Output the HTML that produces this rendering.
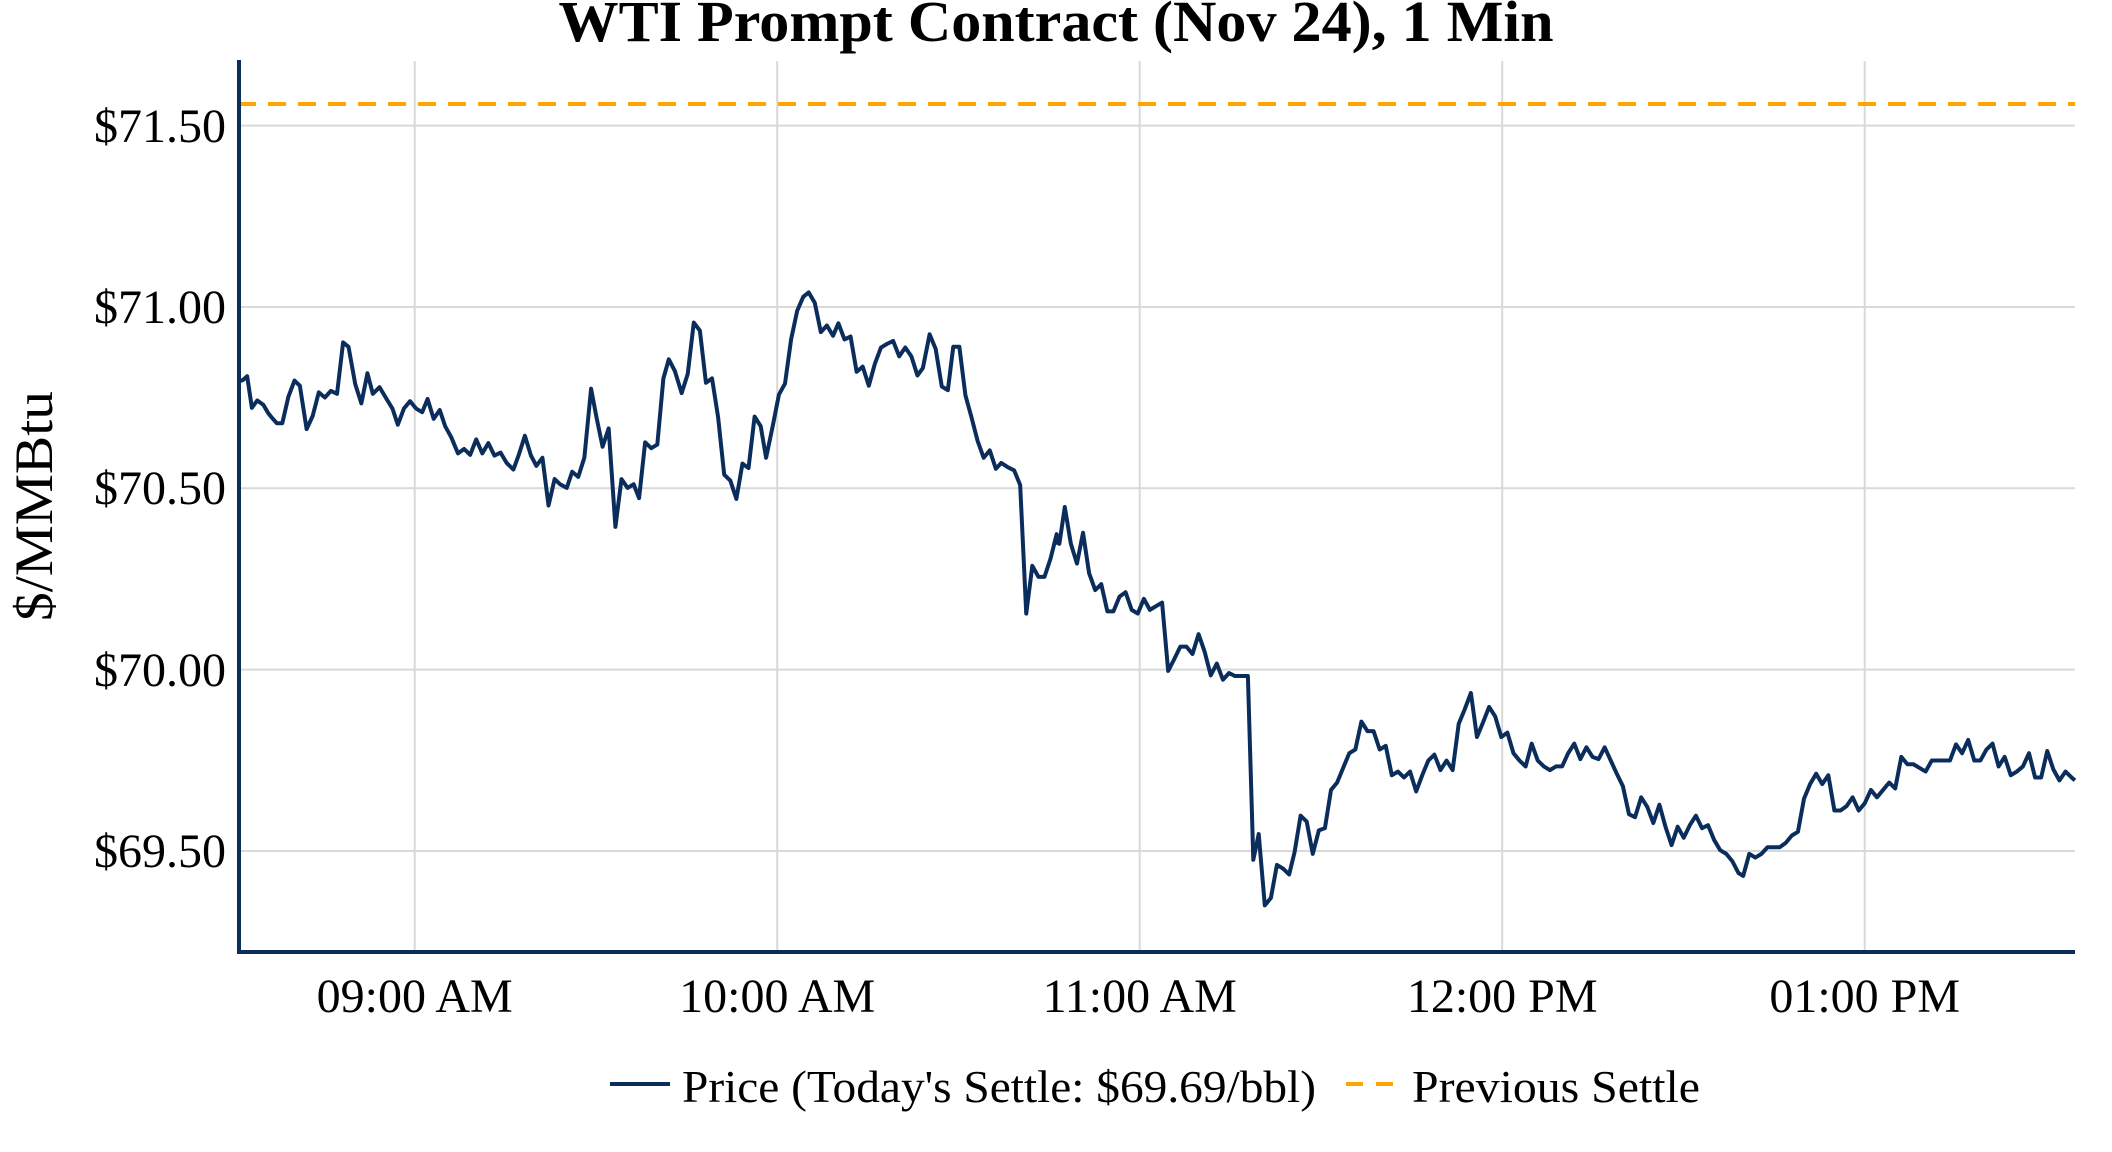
<!DOCTYPE html>
<html><head><meta charset="utf-8"><style>
html,body{margin:0;padding:0;background:#fff;}
svg{display:block;}
text{font-family:"Liberation Serif","Times New Roman",serif;fill:#000;}
</style></head><body>
<svg width="2112" height="1152" viewBox="0 0 2112 1152" xmlns="http://www.w3.org/2000/svg">
<rect width="2112" height="1152" fill="#fff"/>
<g stroke="#d9d9d9" stroke-width="2">
<line x1="414.7" y1="61" x2="414.7" y2="952"/>
<line x1="777.2" y1="61" x2="777.2" y2="952"/>
<line x1="1139.7" y1="61" x2="1139.7" y2="952"/>
<line x1="1502.2" y1="61" x2="1502.2" y2="952"/>
<line x1="1864.7" y1="61" x2="1864.7" y2="952"/>
<line x1="238" y1="125.6" x2="2075" y2="125.6"/>
<line x1="238" y1="307" x2="2075" y2="307"/>
<line x1="238" y1="488.3" x2="2075" y2="488.3"/>
<line x1="238" y1="669.6" x2="2075" y2="669.6"/>
<line x1="238" y1="851" x2="2075" y2="851"/>
</g>
<line x1="238" y1="104" x2="2075" y2="104" stroke="#ffa500" stroke-width="4" stroke-dasharray="18,12"/>
<g fill="none" stroke="#0b2d5b" stroke-width="4" stroke-linejoin="round">
<polyline vector-effect="non-scaling-stroke" transform="translate(237.7,125.6) scale(0.6757,0.7349) translate(-352,-171)" points="352,520 360,517 366,512 373,555 381,545 390,551 397,562 404,570 410,576 418,576 427,540 436,518 444,525 454,584 463,566 472,534 481,541 490,532 499,536 508,466 516,472 526,523 535,549 544,508 552,536 562,527 571,541 581,556 589,578 598,556 607,546 616,556 625,561 633,543 642,570 651,558 659,580 668,595 678,617 687,611 696,619 705,598 714,617 723,603 732,620 741,616 750,630 760,639 768,619 777,593 786,620 794,634 803,623 812,688 821,652 829,659 839,664 847,642 856,649 865,623 875,529 883,568 892,608 901,583 911,717 920,652 929,664 938,659 946,678 955,602 964,610 973,605 982,515 990,489 999,505 1009,535 1018,509 1027,439 1036,450 1045,521 1054,515 1063,568 1072,646 1081,654 1090,679 1099,631 1108,637 1117,567 1126,580 1134,623 1144,579 1153,537 1162,522 1171,462 1180,423 1189,404 1197,398 1206,412 1215,452 1224,443 1233,457 1241,440 1250,462 1259,458 1268,506 1277,499 1286,525 1295,495 1304,473 1313,468 1322,464 1331,485 1340,473 1349,485 1358,511 1366,501 1376,455 1385,475 1394,526 1403,531 1411,472 1420,472 1429,538 1438,568 1447,600 1456,623 1465,613 1474,638 1482,630 1492,636 1501,640 1510,660 1519,835 1528,770 1537,785 1546,785 1555,760 1564,727 1567,738"/>
<polyline vector-effect="non-scaling-stroke" transform="translate(1056,125.6) scale(0.6757,0.7349) translate(0,-171)" points="0,738 5,740 13,690 22,740 31,767 40,725 49,780 58,803 67,795 76,832 85,832 94,812 103,806 112,830 121,835 130,815 139,830 148,825 157,820 166,913 175,897 184,880 193,880 202,890 211,863 220,887 229,919 238,903 247,925 256,916 265,920 284,920 292,1170 300,1135 309,1232 318,1222 327,1177 336,1182 345,1190 353,1160 362,1110 371,1118 380,1162 389,1130 398,1127 407,1075 416,1065 425,1045 434,1025 443,1020 452,982 461,995 470,995 479,1020 488,1015 497,1055 506,1050 515,1058 524,1050 533,1077 542,1055 551,1035 560,1027 569,1048 578,1035 587,1048 596,985 605,965 614,943 623,1003 632,983 641,962 650,975 659,1003 668,997 677,1025 686,1035 695,1043 704,1012 713,1035 722,1043 731,1048 740,1043 749,1043 758,1025 767,1012 776,1033 785,1017 794,1030 803,1033 812,1017 821,1035 830,1053 839,1070 848,1108 857,1112 866,1085 875,1098 884,1120 893,1095 902,1125 911,1150 920,1125 929,1140 938,1123 947,1110 956,1127 965,1123 974,1143 983,1157 992,1162 1001,1172 1010,1188 1017,1192 1026,1162 1035,1167 1044,1162 1053,1153 1062,1153 1071,1153 1080,1147 1089,1137 1098,1132 1107,1087 1116,1067 1125,1053 1134,1067 1143,1055 1152,1103 1161,1103 1170,1097 1179,1085 1188,1103 1197,1093 1206,1075 1215,1085 1224,1075 1233,1065 1242,1073 1251,1030 1260,1040 1269,1040 1278,1045 1287,1050 1296,1035 1305,1035 1314,1035 1323,1035 1332,1013 1341,1025 1350,1007 1359,1035 1368,1035 1377,1020 1386,1012 1395,1043 1404,1030 1413,1055 1422,1050 1431,1043 1440,1025 1449,1058 1458,1058 1467,1022 1476,1047 1485,1062 1494,1050 1503,1058 1508,1062"/>
</g>
<g stroke="#0b2d5b" stroke-width="4">
<line x1="239" y1="60" x2="239" y2="954"/>
<line x1="237" y1="952" x2="2075" y2="952"/>
</g>
<text x="1056" y="41" font-size="58" font-weight="bold" text-anchor="middle" textLength="995" lengthAdjust="spacingAndGlyphs">WTI Prompt Contract (Nov 24), 1 Min</text>
<g font-size="48" text-anchor="end">
<text x="226" y="142">$71.50</text>
<text x="226" y="323">$71.00</text>
<text x="226" y="504">$70.50</text>
<text x="226" y="686">$70.00</text>
<text x="226" y="867">$69.50</text>
</g>
<g font-size="48" text-anchor="middle">
<text x="414.7" y="1012">09:00 AM</text>
<text x="777.2" y="1012">10:00 AM</text>
<text x="1139.7" y="1012">11:00 AM</text>
<text x="1502.2" y="1012">12:00 PM</text>
<text x="1864.7" y="1012">01:00 PM</text>
</g>
<text transform="translate(52,506) rotate(-90)" font-size="54" text-anchor="middle" textLength="230" lengthAdjust="spacingAndGlyphs">$/MMBtu</text>
<line x1="610" y1="1084" x2="670" y2="1084" stroke="#0b2d5b" stroke-width="4"/>
<text x="682" y="1102" font-size="46" textLength="634" lengthAdjust="spacingAndGlyphs">Price (Today's Settle: $69.69/bbl)</text>
<line x1="1346" y1="1084" x2="1400" y2="1084" stroke="#ffa500" stroke-width="4" stroke-dasharray="17,13"/>
<text x="1412" y="1102" font-size="46" textLength="288" lengthAdjust="spacingAndGlyphs">Previous Settle</text>
</svg>
</body></html>
